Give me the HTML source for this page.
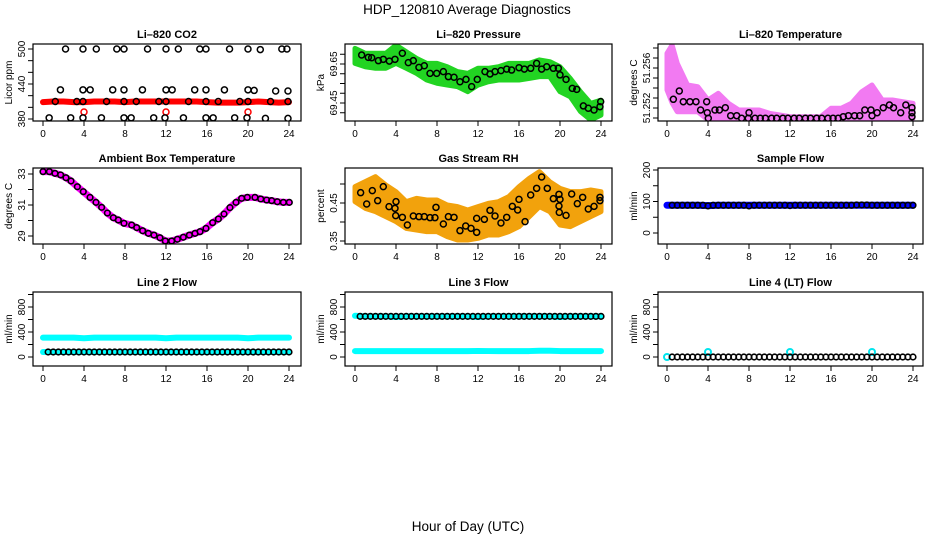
<!DOCTYPE html>
<html><head><meta charset="utf-8"><style>
html,body{margin:0;padding:0;background:#fff;}
svg{display:block;font-family:"Liberation Sans",Arial,sans-serif;}
</style></head><body>
<svg id="chart" width="936" height="540" viewBox="0 0 936 540" xmlns="http://www.w3.org/2000/svg">
<text x="467" y="14" text-anchor="middle" font-size="13.5">HDP_120810  Average Diagnostics</text>
<text x="468" y="531" text-anchor="middle" font-size="13.5">Hour of Day (UTC)</text>
</svg>
<script>
// ---------- data ----------
const xTicks = [0,4,8,12,16,20,24];
const hourly = [0,1,2,3,4,5,6,7,8,9,10,11,12,13,14,15,16,17,18,19,20,21,22,23,24];
// CO2
const co2RedVals = [409,410,410,409,409,410,410,410,409,410,410,410,410,410,410,410,409,408,408,408,409,410,409,408,409];
const co2RedPtHours = [4,12,20];
const co2RedPtVals = [392,392,392];
const co2Hours = [2.2,3.9,5.2,7.2,7.9,10.2,12.0,13.2,15.3,15.9,18.2,20.0,21.2,23.3,23.8,
 1.7,3.9,4.6,6.8,7.9,9.7,12.0,12.6,14.8,15.9,17.7,20.0,20.6,22.7,23.9,
 1.2,3.3,3.9,6.2,7.9,9.1,11.3,12.0,14.2,15.9,17.1,19.2,20.0,22.2,23.9,
 0.6,2.7,3.9,5.7,7.9,8.6,10.8,11.9,13.7,15.9,16.6,18.7,19.9,21.7,23.9];
const co2Vals = [500,500,500,500,500,500,500,500,500,500,500,500,499,500,500,
 430,430,430,430,430,430,430,430,430,430,430,430,429,428,428,
 410,410,410,410,410,410,410,410,410,410,410,410,410,410,410,
 382,382,382,382,382,382,382,382,382,382,382,382,382,381,381];
// Pressure
const presUpper = [69.730,69.705,69.705,69.705,69.747,69.713,69.679,69.653,69.653,69.636,69.611,69.602,69.628,69.628,69.636,69.653,69.653,69.653,69.671,69.662,69.636,69.576,69.508,69.448,69.465];
const presLower = [69.653,69.636,69.628,69.628,69.653,69.628,69.602,69.568,69.551,69.542,69.534,69.508,69.542,69.559,69.568,69.568,69.568,69.576,69.585,69.585,69.508,69.482,69.406,69.363,69.388];
const presHours = [0.65,1.30,1.63,2.28,2.76,3.35,3.90,4.62,5.20,5.69,6.24,6.76,7.32,7.97,8.62,9.11,9.66,10.24,10.83,11.38,11.93,12.68,13.17,13.66,14.24,14.80,15.28,16.00,16.52,17.14,17.72,18.21,18.70,19.35,19.84,20.00,20.59,21.20,21.63,22.28,22.76,23.32,23.90,23.97];
const presVals = [69.696,69.684,69.682,69.667,69.674,69.665,69.674,69.705,69.657,69.667,69.633,69.641,69.602,69.602,69.611,69.585,69.582,69.559,69.571,69.534,69.571,69.611,69.599,69.611,69.616,69.624,69.619,69.631,69.624,69.628,69.653,69.624,69.636,69.628,69.628,69.594,69.571,69.525,69.520,69.435,69.423,69.414,69.431,69.457];
// Li-820 temperature
const tempEnvHours = [0,0.5,1,2,3,4,5,6,7,8,9,10,11,12,13,14,15,16,17,18,19,20,21,22,23,24];
const tempUpper = [51.25747,51.2583,51.25647,51.2543,51.25413,51.2528,51.25347,51.25247,51.2518,51.2518,51.2518,51.25147,51.2513,51.25113,51.25113,51.25113,51.25113,51.25197,51.25197,51.25247,51.25363,51.2543,51.2528,51.2528,51.25263,51.25247];
const tempLower = [51.2538,51.2525,51.25163,51.25163,51.25163,51.2508,51.2508,51.2508,51.2508,51.2508,51.2508,51.2508,51.2508,51.2508,51.2508,51.2508,51.2508,51.2508,51.2508,51.2508,51.2508,51.2508,51.2508,51.2508,51.2508,51.25097];
const tempHours = [0.62,1.2,1.59,2.24,2.83,3.28,3.87,3.93,4.03,4.68,5.11,5.69,6.21,6.8,7.28,7.93,8.0,8.59,9.1,9.6,10.2,10.7,11.3,11.8,12.4,12.9,13.5,14.0,14.6,15.1,15.7,16.2,16.7,17.2,17.7,18.3,18.8,19.3,19.9,20.0,20.5,21.1,21.7,22.1,22.8,23.3,23.9,23.9,23.9];
const tempVals = [51.25287,51.2537,51.25263,51.25263,51.25263,51.2518,51.25263,51.25153,51.25097,51.2518,51.2518,51.25203,51.25123,51.25123,51.25097,51.25097,51.25153,51.25097,51.25097,51.25097,51.25097,51.25097,51.25097,51.25097,51.25097,51.25097,51.25097,51.25097,51.25097,51.25097,51.25097,51.25097,51.25097,51.25113,51.25123,51.25123,51.25123,51.2518,51.2518,51.25123,51.25153,51.25203,51.2523,51.25203,51.25153,51.2523,51.25153,51.25203,51.25113];
// Ambient box temperature
const ambHours = [0.0,0.62,1.17,1.72,2.24,2.73,3.35,3.93,4.59,5.17,5.72,6.28,6.86,7.35,7.9,8.65,9.14,9.72,10.28,10.83,11.41,11.93,12.55,13.11,13.69,14.28,14.83,15.32,15.9,16.55,17.11,17.66,18.24,18.83,19.38,19.93,20.68,21.24,21.82,22.31,22.86,23.45,24.03];
const ambVals = [33.15,33.15,33.04,32.94,32.76,32.55,32.18,31.86,31.49,31.17,30.85,30.48,30.18,30.03,29.82,29.71,29.54,29.34,29.17,29.06,28.89,28.68,28.68,28.79,28.92,29.06,29.17,29.28,29.49,29.86,30.10,30.42,30.83,31.17,31.43,31.49,31.49,31.39,31.32,31.28,31.21,31.17,31.17];
// Gas stream RH
const rhUpper = [.4930,.5061,.5193,.4974,.4798,.4535,.4623,.4579,.4579,.4447,.4404,.4316,.4404,.4491,.4535,.4667,.4930,.5149,.5325,.5061,.4886,.4798,.4798,.4842,.4798];
const rhLower = [.4535,.4360,.4272,.4140,.4009,.3833,.3789,.3746,.3746,.3614,.3526,.3526,.3570,.3658,.3658,.3746,.3877,.4140,.4404,.4272,.3921,.3877,.4009,.4140,.4272];
const rhHours = [.55,1.14,1.69,2.21,2.76,3.32,3.90,4.00,3.97,4.62,5.11,5.69,6.24,6.76,7.32,7.80,7.90,8.62,9.11,9.66,10.24,10.80,11.32,11.87,11.87,12.62,13.17,13.66,14.24,14.80,15.35,15.87,16.00,16.59,17.14,17.72,18.21,18.76,19.35,19.90,19.90,20.00,19.93,20.59,21.14,21.69,22.21,22.76,23.32,23.90,23.90];
const rhVals = [.4772,.4474,.4825,.4561,.4930,.4404,.4360,.4535,.4167,.4123,.3921,.4158,.4140,.4140,.4114,.4114,.4386,.3947,.4140,.4123,.3772,.3895,.3833,.3728,.4096,.4070,.4307,.4158,.3974,.4123,.4412,.4316,.4596,.4009,.4711,.4886,.5184,.4886,.4614,.4728,.4421,.4596,.4254,.4175,.4737,.4482,.4649,.4342,.4412,.4649,.4561];
// Flows
const flowHours = [0.5,1,1.5,2,2.5,3,3.5,4,4.5,5,5.5,6,6.5,7,7.5,8,8.5,9,9.5,10,10.5,11,11.5,12,12.5,13,13.5,14,14.5,15,15.5,16,16.5,17,17.5,18,18.5,19,19.5,20,20.5,21,21.5,22,22.5,23,23.5,24];
const sampleBlue = [88,88,88,88,87,88,88,88,88,88,88,88,88,88,88,88,88,88,88,88,88,88,88,88,88];
const sampleVals = [88,88,88,88,88,88,88,86,88,88,88,88,88,88,88,86,88,88,88,88,88,88,88,87,88,88,88,88,88,88,88,88,88,88,88,88,89,89,89,88,88,88,88,88,88,88,88,88];
const line2Cyan = [310,310,310,310,300,310,310,310,310,310,310,310,300,310,310,310,310,310,310,310,300,310,310,310,310];
const line2CyanLow = [80,80,80,80,80,80,80,80,80,80,80,80,80,80,80,80,80,80,80,80,80,80,80,80,80];
const line2Vals = [80,80,80,80,80,80,80,80,80,80,80,80,80,80,80,80,80,80,80,80,80,80,80,80,80,80,80,80,80,80,80,80,80,80,80,80,80,80,80,80,80,80,80,80,80,80,80,80];
const line3Cyan = [660,650,650,650,640,650,650,650,650,650,650,650,640,650,650,650,650,650,650,650,640,650,650,650,650];
const line3CyanLow = [95,95,95,95,95,95,95,95,95,95,95,95,97,95,95,95,95,95,100,100,95,95,95,95,95];
const line3Vals = [650,650,650,650,650,650,650,650,650,650,650,650,650,650,650,650,650,650,650,650,650,650,650,650,650,650,650,650,650,650,650,650,650,650,650,650,650,650,650,650,650,650,650,650,650,650,650,650];
const line4Vals = [0,0,0,0,0,0,0,0,0,0,0,0,0,0,0,0,0,0,0,0,0,0,0,0,0,0,0,0,0,0,0,0,0,0,0,0,0,0,0,0,0,0,0,0,0,0,0,0];
const line4CyanHours = [0,4,12,20];
const line4CyanVals = [0,80,80,80];

// ---------- drawing ----------
const NS = 'http://www.w3.org/2000/svg';
const svg = document.getElementById('chart');
function el(tag, attrs, parent){
  const e = document.createElementNS(NS, tag);
  for (const k in attrs) e.setAttribute(k, attrs[k]);
  (parent||svg).appendChild(e);
  return e;
}
function makePanel(p){
  const g = el('g', {});
  
  
  const [x0,y0,x1,y1] = p.box;
  const sx = h => p.xr[0] + (p.xr[1]-p.xr[0]) * h / 24;
  const [[v1,q1],[v2,q2]] = p.cal;
  const sy = v => q1 + (v - v1) * (q2 - q1) / (v2 - v1);
  const clipId = 'clip-' + p.id;
  const cp = el('clipPath', {id: clipId}, g);
  el('rect', {x:x0, y:y0, width:x1-x0, height:y1-y0}, cp);
  const plot = el('g', {'clip-path':'url(#'+clipId+')'}, g);
  
  
  const box = el('rect', {x:x0, y:y0, width:x1-x0, height:y1-y0, fill:'none', stroke:'#000', 'stroke-width':1.2}, g);
  
  
  const t = el('text', {x:(x0+x1)/2, y:y0-6, 'text-anchor':'middle', 'font-size':11, 'font-weight':'bold'}, g);
  t.textContent = p.title;
  
  
  xTicks.forEach(h => {
    const x = sx(h);
    el('line', {x1:x, x2:x, y1:y1, y2:y1+5, stroke:'#000', 'stroke-width':1}, g);
    const lb = el('text', {x:x, y:y1+16, 'text-anchor':'middle', 'font-size':10}, g);
    lb.textContent = h;
    
    
  });
  p.ticks.forEach(v => {
    const y = sy(v);
    el('line', {x1:x0-5, x2:x0, y1:y, y2:y, stroke:'#000', 'stroke-width':1}, g);
  });
  p.labels.forEach(v => {
    const y = sy(v);
    const lb = el('text', {x:x0-8, y:y, 'text-anchor':'middle', 'font-size':10, transform:'rotate(-90 '+(x0-8)+' '+y+')'}, g);
    lb.textContent = p.fmt ? p.fmt(v) : v;
    
    
  });
  const yl = el('text', {x:x0-21, y:(y0+y1)/2, 'text-anchor':'middle', 'font-size':10, transform:'rotate(-90 '+(x0-21)+' '+((y0+y1)/2)+')'}, g);
  yl.textContent = p.ylab;
  
  
  return {plot, sx, sy};
}
function band(P, hours, up, lo, fill, name){
  const pts = hours.map((h,i)=> P.sx(h)+','+P.sy(up[i]))
    .concat(hours.map((h,i)=>P.sx(h)+','+P.sy(lo[i])).reverse());
  const e = el('polygon', {points:pts.join(' '), fill:fill, stroke:fill, 'stroke-width':5, 'stroke-linejoin':'round'}, P.plot);
  
  
}
function thickLine(P, hours, vals, color, w, name){
  const e = el('polyline', {points:hours.map((h,i)=>P.sx(h)+','+P.sy(vals[i])).join(' '), fill:'none', stroke:color, 'stroke-width':w, 'stroke-linejoin':'round', 'stroke-linecap':'round'}, P.plot);
  
  
}
function points(P, hours, vals, color, name, r, sw){
  const g = el('g', {}, P.plot);
  
  
  hours.forEach((h,i)=>{
    const c = el('circle', {cx:P.sx(h), cy:P.sy(vals[i]), r:r||3, fill:'none', stroke:color, 'stroke-width':sw||1.5}, g);
    
    
  });
}

let P = makePanel({id:'co2', title:'Li–820 CO2', box:[33,44,301,121], xr:[43,289], cal:[[500,49],[380,119]], ticks:[380,400,420,440,460,480,500], labels:[380,440,500], ylab:'Licor ppm'});
thickLine(P, hourly, co2RedVals, '#ff0000', 6, 'co2-red-series');
points(P, co2RedPtHours, co2RedPtVals, '#ff0000', 'co2-red-points');
points(P, co2Hours, co2Vals, '#000', 'co2-black-points');

P = makePanel({id:'pressure', title:'Li–820 Pressure', box:[345,44,612,121], xr:[355,601], cal:[[69.65,64],[69.45,103]], ticks:[69.40,69.45,69.50,69.55,69.60,69.65,69.70], labels:[69.45,69.65], fmt:v=>v.toFixed(2), ylab:'kPa'});
band(P, hourly, presUpper, presLower, '#22d422', 'pressure-green-band');
points(P, presHours, presVals, '#000', 'pressure-black-points');

P = makePanel({id:'li820-temp', title:'Li–820 Temperature', box:[658,44,923,121], xr:[667,913], cal:[[51.252,108],[51.256,68]], ticks:[51.251,51.252,51.253,51.254,51.255,51.256,51.257,51.258], labels:[51.252,51.256], fmt:v=>v.toFixed(3), ylab:'degrees C'});
band(P, tempEnvHours, tempUpper, tempLower, '#f27af2', 'li820-temp-magenta-band');
points(P, tempHours, tempVals, '#000', 'li820-temp-black-points');

P = makePanel({id:'ambient', title:'Ambient Box Temperature', box:[33,168,301,244], xr:[43,289], cal:[[33,174],[29,236]], ticks:[29,30,31,32,33], labels:[29,31,33], ylab:'degrees C'});
thickLine(P, ambHours, ambVals, '#ff00ff', 7, 'ambient-magenta-series');
points(P, ambHours, ambVals, '#000', 'ambient-black-points', 2.8, 1.6);

P = makePanel({id:'rh', title:'Gas Stream RH', box:[345,168,612,244], xr:[355,601], cal:[[0.45,203],[0.35,241]], ticks:[0.35,0.40,0.45,0.50], labels:[0.35,0.45], fmt:v=>v.toFixed(2), ylab:'percent'});
band(P, hourly, rhUpper, rhLower, '#f2a20c', 'rh-orange-band');
points(P, rhHours, rhVals, '#000', 'rh-black-points');

P = makePanel({id:'sample-flow', title:'Sample Flow', box:[658,168,923,244], xr:[667,913], cal:[[200,170],[0,233]], ticks:[0,50,100,150,200], labels:[0,100,200], ylab:'ml/min'});
thickLine(P, hourly, sampleBlue, '#0000ff', 7, 'sample-flow-blue-series');
points(P, flowHours, sampleVals, '#000', 'sample-flow-black-points', 2.8, 1.6);

P = makePanel({id:'line2', title:'Line 2 Flow', box:[33,292,301,366], xr:[43,289], cal:[[0,357],[800,307]], ticks:[0,200,400,600,800,1000], labels:[0,400,800], ylab:'ml/min'});
thickLine(P, hourly, line2Cyan, '#00ffff', 6, 'line2-cyan-upper');
thickLine(P, hourly, line2CyanLow, '#00ffff', 6, 'line2-cyan-lower');
points(P, flowHours, line2Vals, '#000', 'line2-black-points', 2.8, 1.6);

P = makePanel({id:'line3', title:'Line 3 Flow', box:[345,292,612,366], xr:[355,601], cal:[[0,357],[800,307]], ticks:[0,200,400,600,800,1000], labels:[0,400,800], ylab:'ml/min'});
thickLine(P, hourly, line3Cyan, '#00ffff', 6, 'line3-cyan-upper');
thickLine(P, hourly, line3CyanLow, '#00ffff', 6, 'line3-cyan-lower');
points(P, flowHours, line3Vals, '#000', 'line3-black-points', 2.8, 1.6);

P = makePanel({id:'line4', title:'Line 4 (LT) Flow', box:[658,292,923,366], xr:[667,913], cal:[[0,357],[800,307]], ticks:[0,200,400,600,800,1000], labels:[0,400,800], ylab:'ml/min'});
points(P, line4CyanHours, line4CyanVals, '#00e5ee', 'line4-cyan-points', 3, 2);
points(P, flowHours, line4Vals, '#000', 'line4-black-points', 2.8, 1.6);
</script>
</body></html>
